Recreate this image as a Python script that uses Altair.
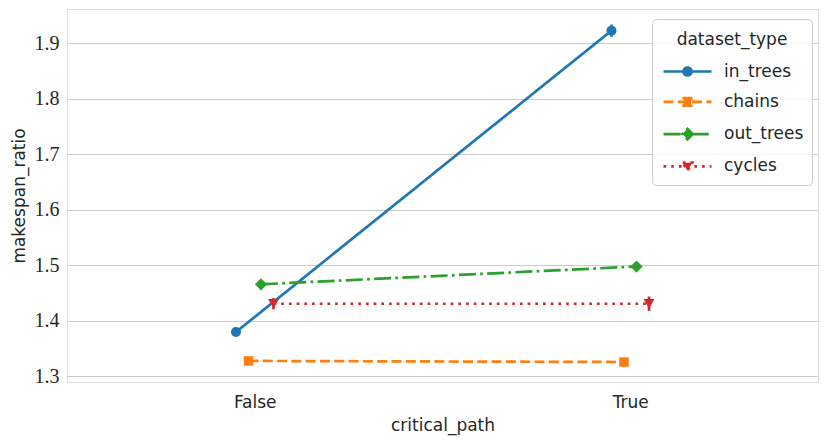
import json
import altair as alt
import pandas as pd

# ---- data ----
types = ["in_trees", "chains", "out_trees", "cycles"]
paths = ["False", "True"]
ratio_false = [1.380, 1.328, 1.466, 1.431]
ratio_true = [1.923, 1.326, 1.498, 1.431]
err_false = [0.008, 0.003, 0.005, 0.010]
err_true = [0.011, 0.003, 0.006, 0.013]
y_ticks = [1.3, 1.4, 1.5, 1.6, 1.7, 1.8, 1.9]

# ---- styles ----
colors = ["#1f77b4", "#ff7f0e", "#2ca02c", "#d62728"]
dashes = [[1, 0], [10, 4.3], [17, 4.3, 2.7, 4.3], [2.7, 5.0]]
markers = ["circle", "square", "diamond", "triangle-down"]
marker_sizes = [100, 90, 150, 120]
legend_paths = [
    "M-1,0H8.6M4.6,0A0.8,0.8,0,1,1,3.0,0A0.8,0.8,0,1,1,4.6,0Z",
    "M-1,0H8.6M3.05,-0.75H4.55V0.75H3.05Z",
    "M-1,0H8.6M3.8,-1.05L4.85,0L3.8,1.05L2.75,0Z",
    "M-1,0H8.6M2.85,-0.75H4.75L3.8,0.85Z",
]
SANS = "DejaVu Sans"
SERIF = "Liberation Serif"
TXT = "#262626"
LW = 2.7

rows = []
for i, t in enumerate(types):
    for cp, vals, errs in (("False", ratio_false, err_false), ("True", ratio_true, err_true)):
        rows.append({"dataset_type": t, "critical_path": cp, "ratio": vals[i],
                     "lo": vals[i] - errs[i], "hi": vals[i] + errs[i]})
df = pd.DataFrame(rows)

n = len(types)
xpos_expr = (f"indexof({json.dumps(paths)}, datum.critical_path) + "
             f"(indexof({json.dumps(types)}, datum.dataset_type) - {(n - 1) / 2}) * {0.1 / (n - 1)}")

base = alt.Chart(df).transform_calculate(xpos=xpos_expr)

x_enc = alt.X("xpos:Q",
              scale=alt.Scale(domain=[-0.5, 1.5], nice=False, zero=False),
              axis=alt.Axis(values=[0, 1], labelExpr=f"{json.dumps(paths)}[datum.value]",
                            title="critical_path", grid=False, ticks=False, domain=False,
                            labelFont=SANS, labelFontSize=17, labelColor=TXT, labelPadding=12,
                            titleFont=SANS, titleFontSize=17, titleFontWeight="normal",
                            titleColor=TXT, titlePadding=7))
y_enc = alt.Y("ratio:Q",
              scale=alt.Scale(domain=[1.29, 1.962], nice=False, zero=False),
              axis=alt.Axis(values=y_ticks, format=".1f", title="makespan_ratio",
                            grid=True, gridColor="#cccccc", gridWidth=1, ticks=False, domain=False,
                            labelFont=SERIF, labelFontSize=20, labelColor=TXT, labelPadding=8,
                            titleFont=SANS, titleFontSize=17, titleFontWeight="normal",
                            titleColor=TXT, titlePadding=6))

color_scale = alt.Scale(domain=types, range=colors)
dash_scale = alt.Scale(domain=types, range=dashes)

legend = alt.Legend(title="dataset_type", orient="none", legendX=585, legendY=10,
                    fillColor="rgba(255,255,255,0.8)", strokeColor="#cccccc", cornerRadius=4,
                    padding=8, titleFont=SANS, titleFontSize=17, titleFontWeight="normal",
                    titleColor=TXT, titleAnchor="middle", titlePadding=19,
                    titleBaseline="line-top", titleLineHeight=27,
                    labelFont=SANS, labelFontSize=17, labelColor=TXT, labelOffset=47,
                    symbolSize=100, symbolStrokeWidth=LW, rowPadding=11.3)

legend_layer = base.transform_filter("false").mark_point(filled=True, opacity=1).encode(
    x=x_enc, y=y_enc,
    color=alt.Color("dataset_type:N", scale=color_scale, legend=legend),
    stroke=alt.Stroke("dataset_type:N", scale=color_scale, legend=legend),
    shape=alt.Shape("dataset_type:N", scale=alt.Scale(domain=types, range=legend_paths), legend=legend),
    strokeDash=alt.StrokeDash("dataset_type:N", scale=dash_scale, legend=legend),
)

lines = base.mark_line(strokeWidth=LW).encode(
    x=x_enc, y=y_enc,
    color=alt.Color("dataset_type:N", scale=color_scale, legend=None),
    strokeDash=alt.StrokeDash("dataset_type:N", scale=dash_scale, legend=None),
)

errbars = base.mark_rule(strokeWidth=LW).encode(
    x=x_enc, y=alt.Y("lo:Q"), y2="hi:Q",
    color=alt.Color("dataset_type:N", scale=color_scale, legend=None),
)

point_layers = []
for t, m, s in zip(types, markers, marker_sizes):
    point_layers.append(
        base.transform_filter(alt.datum.dataset_type == t)
        .mark_point(filled=True, opacity=1, shape=m, size=s)
        .encode(x=x_enc, y=y_enc,
                color=alt.Color("dataset_type:N", scale=color_scale, legend=None))
    )

chart = alt.layer(legend_layer, lines, errbars, *point_layers).properties(
    width=751, height=373,
    padding={"left": 59, "top": 1, "right": 5, "bottom": 60},
    autosize=alt.AutoSizeParams(type="none"),
).configure_view(stroke="#cccccc", strokeWidth=1.25).configure(background="white")

chart.save("out.html", embed_options={"renderer": "svg", "actions": False})
